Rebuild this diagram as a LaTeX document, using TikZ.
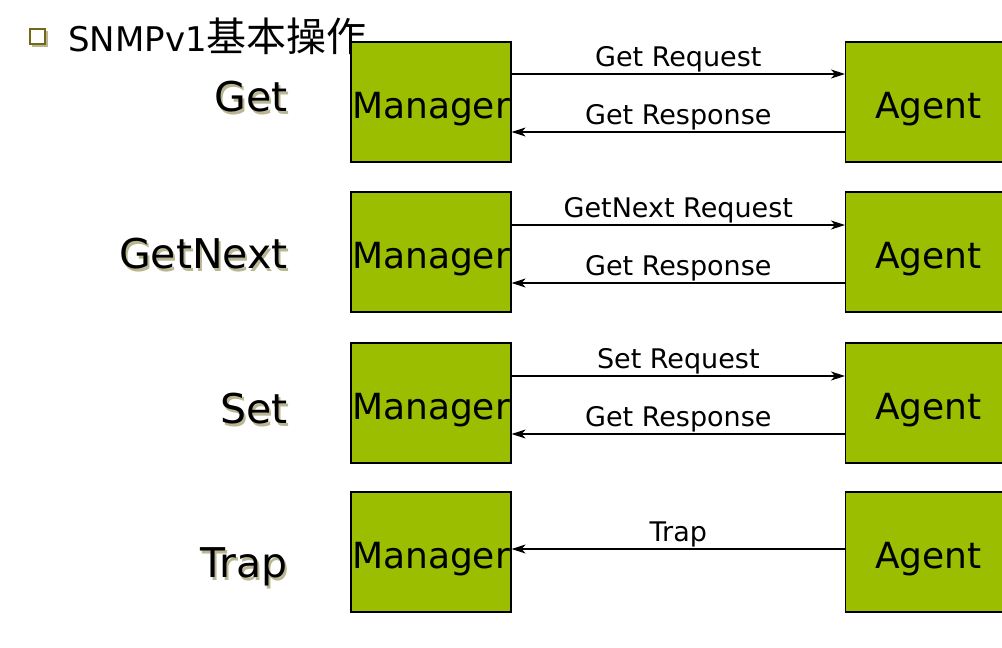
\documentclass[tikz,border=0pt]{standalone}
\usepackage{fontspec}
\setmainfont{DejaVu Sans}
\newfontfamily\cjkfont{Noto Sans CJK SC}
\usetikzlibrary{arrows.meta,positioning}
\definecolor{boxgreen}{RGB}{155,190,0}
\definecolor{labelshadow}{RGB}{185,182,145}
\definecolor{bulletolive}{RGB}{115,105,20}
\tikzset{
  opbox/.style={draw=black, line width=1.2pt, fill=boxgreen, minimum width=160pt, minimum height=120pt, inner sep=0pt, text height=32pt, text depth=0pt, font=\fontsize{36}{36}\selectfont},
  agentbox/.style={opbox, minimum width=166pt, anchor=west},
  msg/.style={line width=1.2pt, -{Stealth[length=14pt,width=9pt,inset=4pt]}},
  msglabel/.style={midway, above, inner sep=1.5pt, font=\fontsize{27}{27}\selectfont},
  oplabel/.style={anchor=east, inner sep=0pt, font=\fontsize{41}{41}\selectfont}
}

\begin{document}
\begin{tikzpicture}[x=1pt,y=-1pt]
  \useasboundingbox (0,0) rectangle (1002,648);
  \def\mx{431}   % manager center x
  \def\ax{845}   % agent left x
  \def\lx{288}   % right edge of operation names

  % Title with square bullet
  \fill[labelshadow] (32,31) rectangle (48,47);
  \draw[bulletolive, line width=2.5pt, fill=white] (30,29) rectangle (45,44);
  \node[anchor=west, inner sep=0pt, font=\fontsize{34}{34}\selectfont] (title) at (68,36) {SNMPv1{\cjkfont\fontsize{40}{40}\selectfont 基本操作}};

  % One row per operation: name, Manager box, Agent box
  \foreach \i/\yy/\ly/\op in {1/102/97/Get, 2/252/254/GetNext, 3/403/409/Set, 4/552/567/Trap} {
    \node[opbox] (mgr\i) at (\mx,\yy) {Manager};
    \node[agentbox] (agt\i) at (\ax,\yy) {Agent};
    \node[oplabel, text=labelshadow] (opshadow\i) at (\lx+2,\ly+3) {\op};
    \node[oplabel] (op\i) at (\lx,\ly) {\op};
  }

  % Request and response messages
  \foreach \i/\up/\dn/\req in {1/28/-30/Get Request, 2/27/-31/GetNext Request, 3/27/-31/Set Request} {
    \draw[msg] ([yshift=\up pt]mgr\i.east) -- node[msglabel] {\req} ([yshift=\up pt]agt\i.west);
    \draw[msg] ([yshift=\dn pt]agt\i.west) -- node[msglabel] {Get Response} ([yshift=\dn pt]mgr\i.east);
  }

  % Trap goes from agent to manager only
  \draw[msg] ([yshift=3pt]agt4.west) -- node[msglabel] {Trap} ([yshift=3pt]mgr4.east);
\end{tikzpicture}
\end{document}
